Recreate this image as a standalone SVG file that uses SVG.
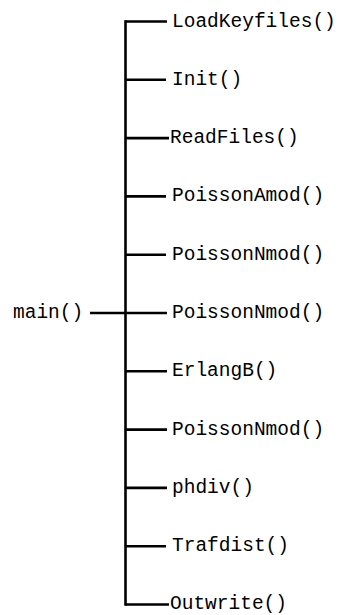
<svg xmlns="http://www.w3.org/2000/svg" width="353" height="615" viewBox="0 0 353 615">
<style>
.t{font-family:"Liberation Mono","Courier New",monospace;font-size:19.5px;fill:#000}
.c line{stroke:#000;stroke-width:2.6}
</style>
<rect width="353" height="615" fill="#fff"/>
<g class="c" id="connectors">
<line x1="125.5" y1="20.2" x2="125.5" y2="605.8" stroke-width="3"/>
<line x1="90" y1="313" x2="125.5" y2="313"/>
<line x1="125.5" y1="21.5" x2="167" y2="21.5"/>
<line x1="125.5" y1="79.8" x2="166" y2="79.8"/>
<line x1="125.5" y1="138.1" x2="169" y2="138.1"/>
<line x1="125.5" y1="196.4" x2="166" y2="196.4"/>
<line x1="125.5" y1="254.7" x2="166" y2="254.7"/>
<line x1="125.5" y1="313" x2="167" y2="313"/>
<line x1="125.5" y1="371.3" x2="167" y2="371.3"/>
<line x1="125.5" y1="429.6" x2="167" y2="429.6"/>
<line x1="125.5" y1="487.9" x2="167" y2="487.9"/>
<line x1="125.5" y1="546.2" x2="166" y2="546.2"/>
<line x1="125.5" y1="604.5" x2="169" y2="604.5"/>
</g>
<g id="main"><text class="t" x="13" y="318">main()</text></g>
<g id="n1"><text class="t" x="172" y="26.5">LoadKeyfiles()</text></g>
<g id="n2"><text class="t" x="172" y="84.8">Init()</text></g>
<g id="n3"><text class="t" x="170" y="143.1">ReadFiles()</text></g>
<g id="n4"><text class="t" x="172" y="201.4">PoissonAmod()</text></g>
<g id="n5"><text class="t" x="172" y="259.7">PoissonNmod()</text></g>
<g id="n6"><text class="t" x="172" y="318">PoissonNmod()</text></g>
<g id="n7"><text class="t" x="172" y="376.3">ErlangB()</text></g>
<g id="n8"><text class="t" x="172" y="434.6">PoissonNmod()</text></g>
<g id="n9"><text class="t" x="172" y="492.9">phdiv()</text></g>
<g id="n10"><text class="t" x="172" y="551.2">Trafdist()</text></g>
<g id="n11"><text class="t" x="170" y="609">Outwrite()</text></g>
</svg>
